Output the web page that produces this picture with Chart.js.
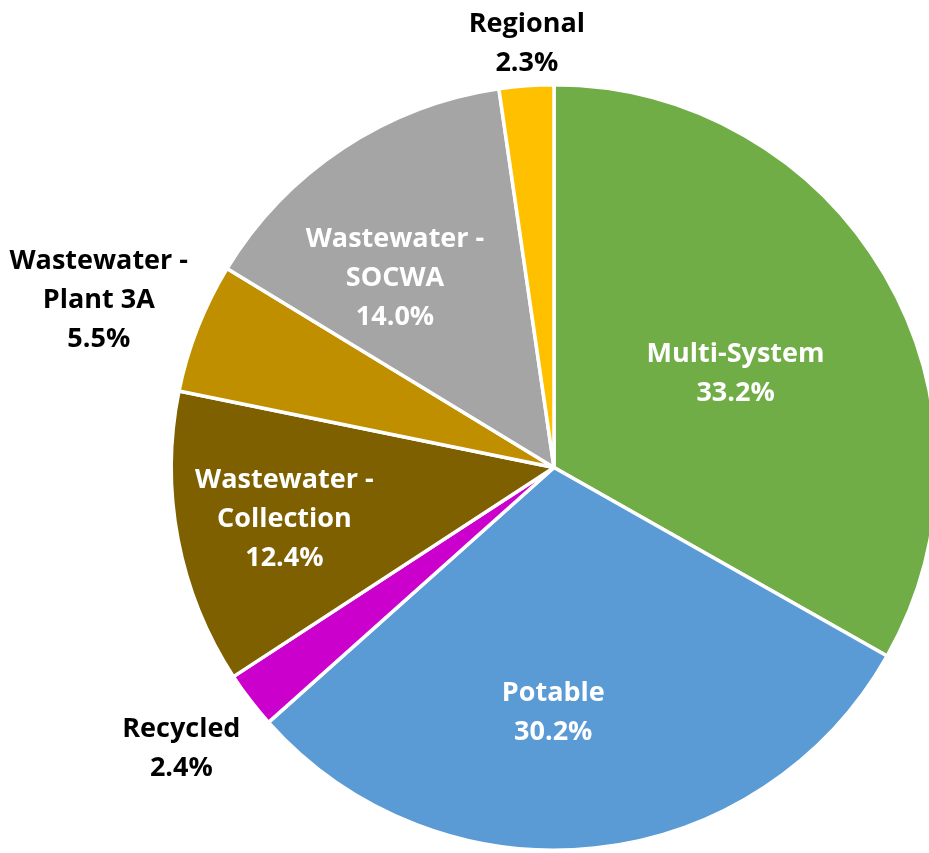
<!DOCTYPE html>
<html>
<head>
<meta charset="utf-8">
<script src="https://cdn.jsdelivr.net/npm/chart.js@4"></script>
<style>
  html, body { margin: 0; padding: 0; background: #ffffff; overflow: hidden; }
  #wrap { width: 929px; height: 853px; overflow: hidden; }
</style>
</head>
<body>
<div id="wrap"><canvas id="c" width="1000" height="853"></canvas></div>
<script>
// Budget share by system
const categories = ['Multi-System', 'Potable', 'Recycled', 'Wastewater - Collection', 'Wastewater - Plant 3A', 'Wastewater - SOCWA', 'Regional'];
const shares = [33.2, 30.2, 2.4, 12.4, 5.5, 14.0, 2.3];
const labelLines = [
  ['Multi-System'],
  ['Potable'],
  ['Recycled'],
  ['Wastewater -', 'Collection'],
  ['Wastewater -', 'Plant 3A'],
  ['Wastewater -', 'SOCWA'],
  ['Regional']
];
const sliceColors = ['#70AD47', '#5B9BD5', '#CC00CC', '#7F6000', '#BF8F00', '#A5A5A5', '#FFC000'];

// label placement: [radius factor, angle shift in degrees, text colour]
const labelPlacement = [
  [0.537, 2.3, '#ffffff'],
  [0.634, 6.3, '#ffffff'],
  [1.215, 0.7, '#000000'],
  [0.716, 0.5, '#ffffff'],
  [1.27, -0.9, '#000000'],
  [0.652, -6.1, '#ffffff'],
  [1.117, 0.5, '#000000']
];

const sliceLabels = {
  id: 'sliceLabels',
  afterDatasetsDraw(chart) {
    const ctx = chart.ctx;
    const meta = chart.getDatasetMeta(0);
    ctx.save();
    ctx.font = 'bold 27px "Open Sans"';
    ctx.textAlign = 'center';
    ctx.textBaseline = 'middle';
    const lineH = 39;
    meta.data.forEach((arc, i) => {
      const p = arc.getProps(['x', 'y', 'startAngle', 'endAngle', 'outerRadius'], true);
      const [f, shift, color] = labelPlacement[i];
      const a = (p.startAngle + p.endAngle) / 2 + shift * Math.PI / 180;
      const cx = p.x + Math.cos(a) * p.outerRadius * f;
      const cy = p.y + Math.sin(a) * p.outerRadius * f + 3;
      const lines = labelLines[i].concat([shares[i].toFixed(1) + '%']);
      const top = cy - (lines.length - 1) * lineH / 2;
      ctx.fillStyle = color;
      lines.forEach((t, k) => ctx.fillText(t, cx, top + k * lineH));
    });
    ctx.restore();
  }
};

new Chart(document.getElementById('c'), {
  type: 'pie',
  data: {
    labels: categories,
    datasets: [{
      data: shares,
      backgroundColor: sliceColors,
      borderColor: '#ffffff',
      borderWidth: 3.5
    }]
  },
  options: {
    responsive: false,
    animation: false,
    layout: { padding: { left: 168, right: 60, top: 83, bottom: 1 } },
    plugins: {
      legend: { display: false },
      tooltip: { enabled: false }
    }
  },
  plugins: [sliceLabels]
});
</script>
</body>
</html>
